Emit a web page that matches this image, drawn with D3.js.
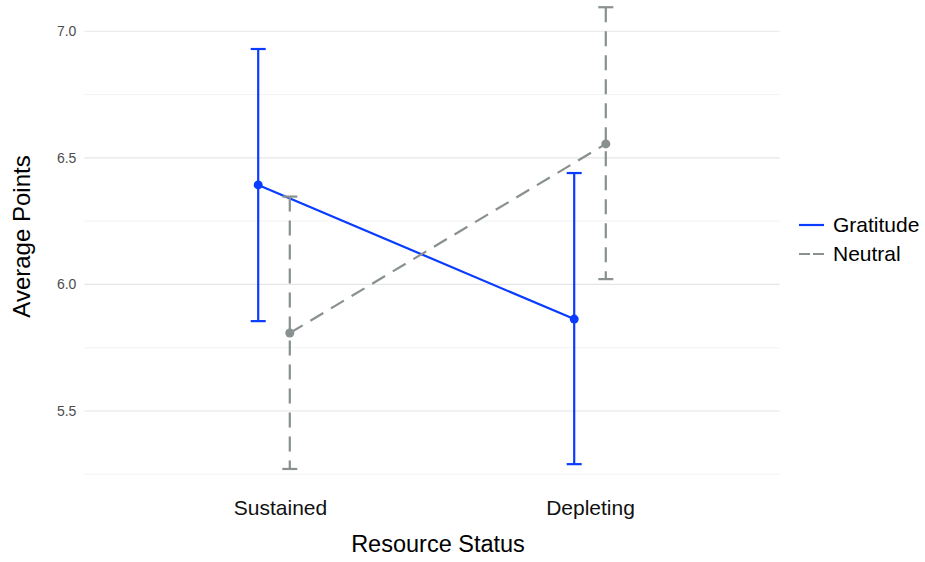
<!DOCTYPE html>
<html>
<head>
<meta charset="utf-8">
<script src="https://cdn.jsdelivr.net/npm/d3@7"></script>
<style>
  body { margin: 0; background: #fff; }
  svg { display: block; font-family: "Liberation Sans", Arial, Helvetica, sans-serif; }
</style>
</head>
<body>
<svg id="chart" width="925" height="562"></svg>
<script>
const categories = ["Sustained", "Depleting"];
const conditions = ["Gratitude", "Neutral"];
const gratitudeMean = [6.393, 5.863];
const gratitudeLow  = [5.855, 5.290];
const gratitudeHigh = [6.930, 6.440];
const neutralMean = [5.808, 6.555];
const neutralLow  = [5.271, 6.021];
const neutralHigh = [6.347, 7.095];
const yTicks = [5.5, 6.0, 6.5, 7.0];
const yMinor = [5.25, 5.75, 6.25, 6.75];

const colors = { Gratitude: "#0a3cff", Neutral: "#889090" };
const dash = { Gratitude: null, Neutral: "15,9" };

const series = [
  { name: "Gratitude", mean: gratitudeMean, low: gratitudeLow, high: gratitudeHigh, dodge: -0.05 },
  { name: "Neutral", mean: neutralMean, low: neutralLow, high: neutralHigh, dodge: 0.05 }
];

const svg = d3.select("#chart");
const x = d3.scaleLinear().domain([0.4, 2.6]).range([84.4, 779.6]);
const y = d3.scaleLinear().domain([5.18, 7.186]).range([492, -15.8]);

// gridlines
const grid = svg.append("g");
grid.selectAll("line.minor").data(yMinor).join("line")
  .attr("x1", x(0.4)).attr("x2", x(2.6))
  .attr("y1", d => y(d)).attr("y2", d => y(d))
  .attr("stroke", "#efefef").attr("stroke-width", 0.8);
grid.selectAll("line.major").data(yTicks).join("line")
  .attr("x1", x(0.4)).attr("x2", x(2.6))
  .attr("y1", d => y(d)).attr("y2", d => y(d))
  .attr("stroke", "#e6e6e6").attr("stroke-width", 1.1);

// y axis
const yAxis = d3.axisLeft(y).tickValues(yTicks).tickFormat(d3.format(".1f")).tickSize(0).tickPadding(8);
const ya = svg.append("g").attr("transform", `translate(${x(0.4)},0)`).call(yAxis);
ya.select(".domain").remove();
ya.selectAll("text").attr("fill", "#4d4d4d").attr("font-size", 14).attr("font-family", "Liberation Sans, Arial, sans-serif");

// x axis
const xAxis = d3.axisBottom(x).tickValues([1, 2]).tickFormat((d, i) => categories[i]).tickSize(0).tickPadding(0);
const xa = svg.append("g").attr("transform", `translate(0,0)`).call(xAxis);
xa.select(".domain").remove();
xa.selectAll("text").attr("y", 515).attr("dy", null).attr("dx", (d, i) => i === 0 ? 6 : 0)
  .attr("fill", "#111").attr("font-size", 21).attr("font-family", "Liberation Sans, Arial, sans-serif");

// axis titles
svg.append("text").attr("x", x(1.5) + 6).attr("y", 552).attr("text-anchor", "middle")
  .attr("font-size", 23.5).attr("fill", "#000").text("Resource Status");
svg.append("text").attr("transform", `translate(30,236.5) rotate(-90)`).attr("text-anchor", "middle")
  .attr("font-size", 24).attr("fill", "#000").text("Average Points");

// series
series.forEach(s => {
  const g = svg.append("g");
  const pts = s.mean.map((m, i) => ({ xi: i + 1 + s.dodge, m, lo: s.low[i], hi: s.high[i] }));
  const line = d3.line().x(d => x(d.xi)).y(d => y(d.m));
  g.append("path").datum(pts).attr("d", line).attr("fill", "none")
    .attr("stroke", colors[s.name]).attr("stroke-width", 2.2).attr("stroke-dasharray", dash[s.name]);
  g.selectAll("line.err").data(pts).join("line")
    .attr("x1", d => x(d.xi)).attr("x2", d => x(d.xi))
    .attr("y1", d => y(d.hi)).attr("y2", d => y(d.lo))
    .attr("stroke", colors[s.name]).attr("stroke-width", 2.2).attr("stroke-dasharray", dash[s.name]);
  ["hi", "lo"].forEach(k => {
    g.selectAll("line.cap" + k).data(pts).join("line")
      .attr("x1", d => x(d.xi) - 7.5).attr("x2", d => x(d.xi) + 7.5)
      .attr("y1", d => y(d[k])).attr("y2", d => y(d[k]))
      .attr("stroke", colors[s.name]).attr("stroke-width", 2.2);
  });
  g.selectAll("circle").data(pts).join("circle")
    .attr("cx", d => x(d.xi)).attr("cy", d => y(d.m)).attr("r", 4.5)
    .attr("fill", colors[s.name]);
});

// legend
const legend = svg.append("g");
conditions.forEach((c, i) => {
  const ly = 225 + i * 29;
  legend.append("line").attr("x1", 799).attr("x2", 824).attr("y1", ly).attr("y2", ly)
    .attr("stroke", colors[c]).attr("stroke-width", 2.2).attr("stroke-dasharray", dash[c] ? "11,3" : null);
  legend.append("text").attr("x", 833).attr("y", ly).attr("dy", "0.35em")
    .attr("font-size", 21).attr("fill", "#000").text(c);
});
</script>
</body>
</html>
